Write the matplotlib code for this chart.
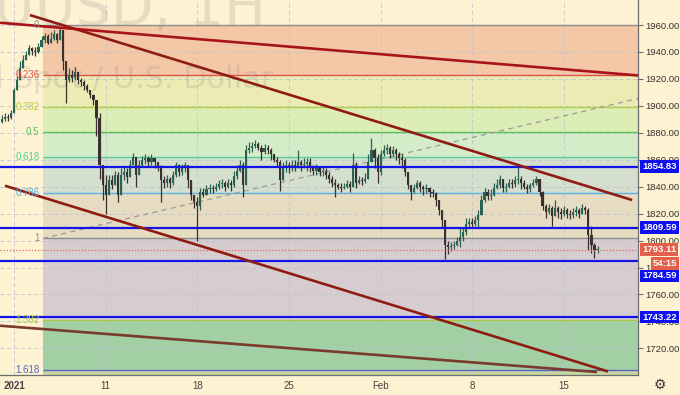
import numpy as np
import matplotlib
matplotlib.use('Agg')
import matplotlib.pyplot as plt
from matplotlib import font_manager

# ---------------- data ----------------
first_open = 1888
close = [1890, 1892, 1891, 1895, 1912, 1919, 1928, 1934, 1938, 1943,
         1941, 1940, 1944, 1949, 1952, 1947, 1950, 1953, 1949, 1956,
         1933, 1919, 1923, 1921, 1925, 1919, 1918, 1915, 1912, 1908,
         1904, 1891, 1856, 1841, 1834, 1845, 1841, 1849, 1834, 1849,
         1851, 1847, 1856, 1862, 1849, 1856, 1860, 1861, 1858, 1861,
         1858, 1855, 1845, 1843, 1846, 1843, 1849, 1856, 1851, 1854,
         1856, 1845, 1834, 1829, 1826, 1836, 1834, 1838, 1839, 1838,
         1840, 1842, 1843, 1840, 1843, 1841, 1848, 1852, 1856, 1841,
         1867, 1869, 1870, 1872, 1869, 1866, 1869, 1867, 1864, 1860,
         1858, 1845, 1854, 1856, 1854, 1856, 1855, 1858, 1856, 1857,
         1858, 1854, 1852, 1854, 1851, 1852, 1849, 1846, 1843, 1841,
         1840, 1839, 1840, 1842, 1840, 1856, 1843, 1845, 1844, 1846,
         1858, 1867, 1861, 1851, 1864, 1867, 1869, 1864, 1867, 1864,
         1861, 1860, 1851, 1841, 1836, 1839, 1843, 1840, 1838, 1839,
         1836, 1835, 1830, 1823, 1815, 1797, 1795, 1796, 1797, 1800,
         1803, 1806, 1812, 1814, 1812, 1815, 1819, 1830, 1836, 1833,
         1834, 1839, 1841, 1846, 1839, 1840, 1843, 1842, 1845, 1846,
         1843, 1840, 1838, 1841, 1843, 1846, 1836, 1826, 1821, 1824,
         1818, 1824, 1821, 1820, 1823, 1820, 1819, 1821, 1823, 1820,
         1824, 1823, 1804, 1797, 1793, 1793.1]
high = [1893, 1895, 1894, 1897, 1913, 1922, 1933, 1938, 1941, 1945,
        1944, 1944, 1947, 1952, 1954, 1953, 1955, 1956, 1954, 1958,
        1955, 1933, 1928, 1927, 1929, 1925, 1921, 1919, 1916, 1912,
        1909, 1904, 1895, 1856, 1849, 1849, 1849, 1852, 1851, 1854,
        1855, 1854, 1860, 1865, 1862, 1860, 1863, 1864, 1863, 1864,
        1861, 1858, 1856, 1848, 1849, 1847, 1852, 1858, 1857, 1857,
        1858, 1856, 1845, 1834, 1832, 1839, 1839, 1841, 1842, 1841,
        1843, 1845, 1846, 1844, 1846, 1845, 1852, 1856, 1860, 1858,
        1871, 1873, 1873, 1875, 1873, 1871, 1872, 1871, 1869, 1864,
        1862, 1860, 1858, 1860, 1858, 1860, 1860, 1867, 1860, 1861,
        1861, 1861, 1856, 1857, 1855, 1855, 1854, 1851, 1848, 1846,
        1843, 1843, 1843, 1845, 1844, 1865, 1858, 1848, 1847, 1850,
        1864, 1876, 1869, 1864, 1867, 1871, 1872, 1870, 1870, 1869,
        1866, 1864, 1861, 1851, 1840, 1842, 1845, 1844, 1841, 1842,
        1840, 1838, 1836, 1830, 1823, 1815, 1800, 1799, 1800, 1803,
        1810, 1809, 1817, 1817, 1817, 1818, 1823, 1834, 1839, 1838,
        1838, 1843, 1846, 1849, 1845, 1843, 1846, 1846, 1848, 1855,
        1848, 1845, 1842, 1843, 1846, 1848, 1846, 1837, 1827, 1827,
        1826, 1830, 1826, 1824, 1826, 1824, 1823, 1824, 1826, 1824,
        1827, 1826, 1824, 1811, 1798, 1796]
low = [1887, 1889, 1889, 1890, 1895, 1913, 1921, 1931, 1934, 1938,
       1938, 1937, 1939, 1944, 1947, 1946, 1947, 1949, 1947, 1949,
       1927, 1902, 1918, 1918, 1919, 1916, 1915, 1912, 1910, 1906,
       1901, 1878, 1846, 1830, 1820, 1835, 1838, 1843, 1829, 1838,
       1845, 1843, 1849, 1856, 1840, 1851, 1855, 1857, 1855, 1856,
       1854, 1852, 1829, 1839, 1840, 1839, 1841, 1847, 1848, 1849,
       1851, 1839, 1830, 1824, 1800, 1823, 1832, 1834, 1835, 1835,
       1837, 1838, 1839, 1837, 1839, 1837, 1840, 1846, 1851, 1832,
       1841, 1865, 1866, 1869, 1867, 1860, 1864, 1864, 1860, 1858,
       1855, 1837, 1846, 1851, 1850, 1852, 1852, 1854, 1852, 1854,
       1852, 1851, 1849, 1849, 1848, 1848, 1846, 1843, 1840, 1832,
       1838, 1836, 1838, 1839, 1836, 1840, 1839, 1842, 1841, 1843,
       1846, 1860, 1854, 1843, 1849, 1863, 1864, 1861, 1863, 1860,
       1857, 1854, 1848, 1838, 1830, 1835, 1838, 1836, 1834, 1835,
       1832, 1832, 1826, 1819, 1809, 1786, 1790, 1792, 1794, 1796,
       1795, 1800, 1804, 1809, 1809, 1811, 1809, 1819, 1829, 1830,
       1830, 1833, 1838, 1839, 1836, 1836, 1839, 1839, 1840, 1842,
       1838, 1838, 1835, 1836, 1840, 1841, 1833, 1823, 1817, 1820,
       1811, 1818, 1817, 1816, 1818, 1817, 1816, 1817, 1818, 1817,
       1820, 1820, 1793, 1791, 1787, 1791]

candles_per_day = 6
series_start_day = -0.75          # trading days relative to 4 Jan open

date_ticks = [0, 5, 10, 15, 20, 25, 30]
date_labels = ['2021', '11', '18', '25', 'Feb', '8', '15']
price_ticks = [1720, 1740, 1760, 1780, 1800, 1820, 1840, 1860, 1880, 1900, 1920, 1940, 1960]

fib_levels = [0, 0.236, 0.382, 0.5, 0.618, 0.786, 1, 1.382, 1.618]
fib_labels = ['0', '0.236', '0.382', '0.5', '0.618', '0.786', '1', '1.382', '1.618']
fib_price_0 = 1960.0
fib_price_1 = 1801.6
fib_anchor_days = [1.58, 51.1]

support_levels = [1854.83, 1809.59, 1784.59, 1743.22]
last_price = 1793.11
countdown = '54:15'

trend_a_days, trend_a_prices = [0.87, 33.72], [1967.4, 1830.1]
trend_b_days, trend_b_prices = [-0.76, 34.04], [1961.7, 1922.6]
trend_c_days, trend_c_prices = [-0.49, 32.41], [1840.7, 1702.8]
trend_d_days, trend_d_prices = [-0.76, 31.8], [1736.8, 1702.4]

# ---------------- style ----------------
BG = '#fdf2d2'
fib_line_colors = ['#8c8c8c', '#e0524f', '#b3cf45', '#5cc25c', '#52cf9c',
                   '#5cb0e2', '#8c8c8c', '#a9c93e', '#5a62c8']
fib_fill_colors = ['#f4c8a7', '#ecebb3', '#dcedb6', '#d5ecc9', '#d4dfce',
                   '#e6dcc1', '#d7cdd1', '#a2d0a4']
fib_below_fill = '#c6d69e'

names = {f.name for f in font_manager.fontManager.ttflist}
axis_font = 'Liberation Sans Narrow' if 'Liberation Sans Narrow' in names else 'Liberation Sans'

fig = plt.figure(figsize=(6.8, 3.95), dpi=100)
fig.patch.set_facecolor(BG)
ax = fig.add_axes([0, 20 / 395, 638 / 680, 375 / 395])
ax.set_facecolor(BG)
x_left, x_right = -0.764, 34.04
ax.set_xlim(x_left, x_right)
ax.set_ylim(1700.2, 1978.6)

# fib retracement
rng = fib_price_0 - fib_price_1
fib_prices = [fib_price_0 - lv * rng for lv in fib_levels]
fx0 = fib_anchor_days[0]
for i in range(len(fib_prices) - 1):
    ax.fill_between([fx0, x_right], fib_prices[i], fib_prices[i + 1],
                    color=fib_fill_colors[i], lw=0, zorder=1)
ax.fill_between([fx0, x_right], fib_prices[-1], 1690,
                color=fib_below_fill, lw=0, zorder=1)
for p, lab, col in zip(fib_prices, fib_labels, fib_line_colors):
    ax.hlines(p, fx0, x_right, color=col, lw=1.0, zorder=1.8)
    ax.annotate(lab, xy=(fx0, p), xytext=(-2.5, 0), textcoords='offset points',
                ha='right', va='center', fontsize=7, color=col,
                family=axis_font, zorder=6)
ax.plot(fib_anchor_days, [fib_price_1, fib_price_0], color='#9a9a9a',
        lw=0.9, ls=(0, (4, 3.5)), zorder=2)

# watermark
ax.text(-82 / 680, 1 - 25 / 395, 'XAUUSD, 1H', transform=fig.transFigure,
        ha='left', va='baseline', fontsize=40, color='#7a7a7a', alpha=0.18,
        zorder=1.6)
ax.text(274 / 680, 1 - 88 / 395, 'Gold Spot / U.S. Dollar', transform=fig.transFigure,
        ha='right', va='baseline', fontsize=22, color='#7a7a7a', alpha=0.18,
        zorder=1.6)

# grid
ax.set_axisbelow('line')
ax.set_xticks(date_ticks)
ax.set_xticklabels(date_labels)
ax.set_yticks(price_ticks)
ax.set_yticklabels([f'{v:.2f}' for v in price_ticks])
ax.grid(True, color='#b9c3d3', lw=0.7, ls=(0, (4, 3)), alpha=0.8)

# candles
c = np.array(close, dtype=float)
o = np.concatenate([[first_open], c[:-1]])
h = np.maximum(np.array(high, dtype=float), np.maximum(o, c))
l = np.minimum(np.array(low, dtype=float), np.minimum(o, c))
xs = series_start_day + (np.arange(len(c)) + 0.5) / candles_per_day
up = c >= o
up_col, dn_col = '#2a6352', '#3b2f2f'
cols = np.where(up, up_col, dn_col)
ax.vlines(xs, l, h, colors=cols, lw=0.9, zorder=3)
body = np.where(np.abs(c - o) < 0.5, 0.5, c - o)
ax.bar(xs, body, bottom=o, width=0.7 / candles_per_day, color=cols,
       lw=0, zorder=3.1)

# horizontal levels
for p in support_levels:
    ax.axhline(p, color='#1414e6', lw=1.6, zorder=4)
ax.axhline(last_price, color='#e06a5a', lw=0.9, ls=(0, (1, 1.5)), zorder=4)

# trend lines
ax.plot(trend_a_days, trend_a_prices, color='#8e1c14', lw=1.9, zorder=5, solid_capstyle='butt')
ax.plot(trend_b_days, trend_b_prices, color='#a8141a', lw=1.9, zorder=5, solid_capstyle='butt')
ax.plot(trend_c_days, trend_c_prices, color='#8e1c10', lw=1.9, zorder=5, solid_capstyle='butt')
ax.plot(trend_d_days, trend_d_prices, color='#7a3a2c', lw=1.9, zorder=5, solid_capstyle='butt')

# axes styling
for s in ['top', 'left']:
    ax.spines[s].set_visible(False)
for s in ['right', 'bottom']:
    ax.spines[s].set_color('#6e6e6e')
    ax.spines[s].set_linewidth(0.9)
    ax.spines[s].set_zorder(8)
ax.yaxis.tick_right()
ax.tick_params(axis='y', length=3.5, width=0.8, color='#6e6e6e', pad=2,
               labelsize=6.8, labelcolor='#333333')
ax.tick_params(axis='x', length=0, pad=4, labelsize=7, labelcolor='#444444')
for t in ax.get_yticklabels() + ax.get_xticklabels():
    t.set_family(axis_font)
ax.get_xticklabels()[0].set_fontweight('bold')


def price_tag(price, text, fc, dx=3.0, dy=0.0):
    ax.annotate(text, xy=(1, price), xycoords=ax.get_yaxis_transform(),
                xytext=(dx, dy), textcoords='offset points', ha='left', va='center',
                color='white', fontsize=6.8, fontweight='bold', family=axis_font,
                bbox=dict(boxstyle='square,pad=0.2', fc=fc, ec='none'),
                zorder=10, annotation_clip=False)


price_tag(support_levels[0], f'{support_levels[0]:.2f}', '#0f0ff0')
price_tag(support_levels[1], f'{support_levels[1]:.2f}', '#0f0ff0')
price_tag(support_levels[3], f'{support_levels[3]:.2f}', '#0f0ff0')
price_tag(last_price, f'{last_price:.2f}', '#e4604d')
price_tag(last_price, countdown, '#e4604d', dx=10.5, dy=-10)
price_tag(support_levels[2], f'{support_levels[2]:.2f}', '#0f0ff0', dy=-10.5)

fig.text(660 / 680, 1 - 385 / 395, '\u2699', ha='center', va='center',
         fontsize=10, color='#333333', family='DejaVu Sans')

fig.savefig('out.png', dpi=100, facecolor=BG)
